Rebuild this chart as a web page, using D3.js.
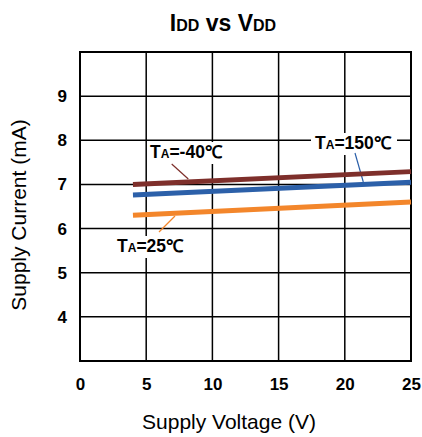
<!DOCTYPE html>
<html><head><meta charset="utf-8">
<script src="https://cdn.jsdelivr.net/npm/d3@7"></script>
<style>
body{margin:0;background:#fff;}
text{font-family:"Liberation Sans",Arial,sans-serif;}
</style></head>
<body><svg id="c" width="422" height="437"></svg>
<script>
const xTicks = [0,5,10,15,20,25];
const yTicks = [4,5,6,7,8,9];
const yGrid = [3,4,5,6,7,8,9,10];
const voltage = [4,25];
const seriesNames = ["-40","150","25"];
const seriesColors = ["#7e2f2b","#2c60a9","#f3862b"];
const iddM40 = [7.00,7.29];
const idd150 = [6.76,7.05];
const idd25 = [6.30,6.60];
const seriesValues = [iddM40, idd150, idd25];

const svg = d3.select("#c");
const L=80,R=411,T=52,B=361;
const x = d3.scaleLinear().domain([0,25]).range([L,R]);
const y = d3.scaleLinear().domain([3,10]).range([B,T]);

// title
const title = svg.append("text").attr("x",223).attr("y",31).attr("text-anchor","middle")
  .attr("font-weight","bold").attr("font-size",23);
title.append("tspan").text("I");
title.append("tspan").attr("font-size",16).text("DD");
title.append("tspan").text(" vs V");
title.append("tspan").attr("font-size",16).text("DD");

// grid
const g = svg.append("g");
g.selectAll(".vg").data(xTicks).join("line").attr("x1",d=>x(d)).attr("x2",d=>x(d))
  .attr("y1",T).attr("y2",B).attr("stroke","#000").attr("stroke-width",1.5);
g.selectAll(".hg").data(yGrid).join("line").attr("y1",d=>y(d)).attr("y2",d=>y(d))
  .attr("x1",L).attr("x2",R).attr("stroke","#000").attr("stroke-width",1.5);
g.append("rect").attr("x",L).attr("y",T).attr("width",R-L).attr("height",B-T)
  .attr("fill","none").attr("stroke","#000").attr("stroke-width",2);

// axes labels via d3 axes
const xa = svg.append("g").attr("transform",`translate(0,${B})`)
  .call(d3.axisBottom(x).tickValues(xTicks).tickFormat(d3.format("d")).tickSize(0).tickPadding(17));
xa.select(".domain").remove();
xa.selectAll("text").attr("font-size",17).attr("font-weight","bold").attr("fill","#000")
  .attr("font-family","Liberation Sans, Arial, sans-serif");
const ya = svg.append("g").attr("transform",`translate(${L},0)`)
  .call(d3.axisLeft(y).tickValues(yTicks).tickFormat(d3.format("d")).tickSize(0).tickPadding(13));
ya.select(".domain").remove();
ya.selectAll("text").attr("font-size",17).attr("font-weight","bold").attr("fill","#000")
  .attr("font-family","Liberation Sans, Arial, sans-serif");

svg.append("text").attr("x",229).attr("y",429).attr("text-anchor","middle")
  .attr("font-size",21).text("Supply Voltage (V)");
svg.append("text").attr("transform","translate(26,215) rotate(-90)").attr("text-anchor","middle")
  .attr("font-size",21).text("Supply Current (mA)");

// label backgrounds covering gridlines
const labels = [
  {i:0, x:150, y:158, bx:[148,230], by:[142,164]},
  {i:1, x:315, y:149, bx:[311,397], by:[133,155]},
  {i:2, x:117, y:252, bx:[113,188], by:[236,258]},
];
labels.forEach(l=>{
  svg.append("rect").attr("x",l.bx[0]).attr("y",l.by[0]).attr("width",l.bx[1]-l.bx[0])
    .attr("height",l.by[1]-l.by[0]).attr("fill","#fff");
});

// leader lines
const leaders = [[171.7,164,188.3,179],[355,153,363.3,182],[175,216,159,232]];
leaders.forEach((d,i)=>svg.append("line").attr("x1",d[0]).attr("y1",d[1]).attr("x2",d[2]).attr("y2",d[3])
  .attr("stroke",seriesColors[i]).attr("stroke-width",1.2));

// series lines
const line = d3.line().x((d,i)=>x(voltage[i])).y(d=>y(d));
seriesValues.forEach((vals,i)=>{
  svg.append("path").attr("d",line(vals)).attr("fill","none")
    .attr("stroke",seriesColors[i]).attr("stroke-width",5);
});

labels.forEach(l=>{
  const t = svg.append("text").attr("x",l.x).attr("y",l.y).attr("font-weight","bold").attr("font-size",17.5);
  t.append("tspan").text("T");
  t.append("tspan").attr("font-size",12).text("A");
  t.append("tspan").text("="+seriesNames[l.i]+"℃");
});
</script></body></html>
